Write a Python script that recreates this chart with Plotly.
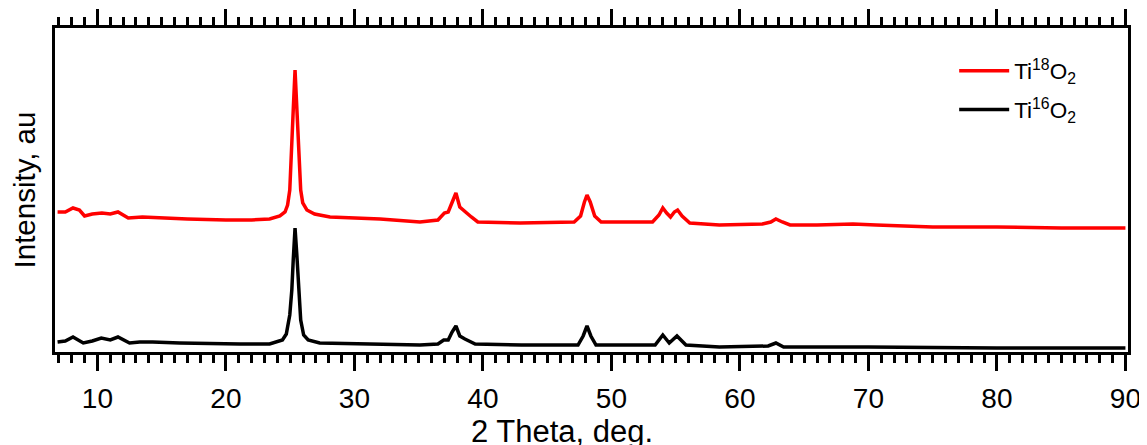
import plotly.graph_objects as go

# 2-theta (deg) and intensity (a.u.)
theta_18 = [6.9, 7.5, 8.1, 8.6, 9.0, 9.6, 10.35, 11.0, 11.6, 12.4, 13.5, 15.0, 17.0, 20.0, 22.0,
            23.4, 24.2, 24.6, 24.8, 24.97, 25.13, 25.24, 25.38, 25.52, 25.65, 25.82, 25.98, 26.3,
            26.9, 28.1, 32.0, 35.1, 36.5, 37.0, 37.3, 37.6, 37.9, 38.2, 38.7, 39.1, 39.6, 42.9,
            47.1, 47.6, 47.9, 48.1, 48.35, 48.7, 49.2, 53.2, 53.7, 54.0, 54.3, 54.6, 54.9, 55.15,
            55.5, 56.1, 58.4, 61.75, 62.4, 62.8, 63.3, 63.9, 66.0, 68.8, 70.6, 75.0, 80.0, 85.0, 90.0]
int_18 = [140, 140, 144, 142, 136, 138, 139, 138, 140, 134, 135, 134, 133, 132, 132,
          133, 136, 140, 147, 162, 202, 242, 282, 242, 202, 162, 149, 142,
          138, 135, 133, 130, 132, 139, 140, 150, 159, 145, 139, 135, 130, 129,
          130, 136, 150, 157, 150, 136, 130, 130, 137, 144, 139, 135, 140, 142,
          136, 129, 127, 128, 130, 133, 130, 127, 127, 128, 127, 125, 125, 124, 124]

theta_16 = [6.9, 7.5, 8.1, 8.9, 9.6, 10.3, 11.0, 11.6, 12.5, 13.3, 14.3, 16.4, 21.1, 23.4,
            24.4, 24.7, 24.97, 25.13, 25.24, 25.38, 25.52, 25.67, 25.82, 26.05, 26.4, 27.3,
            32.0, 35.1, 36.5, 36.95, 37.3, 37.6, 37.9, 38.2, 38.6, 39.4, 43.0, 47.4, 47.8,
            48.1, 48.4, 48.8, 53.4, 54.0, 54.5, 55.1, 55.8, 58.4, 62.2, 62.8, 63.4, 70.0,
            80.0, 90.0]
int_16 = [10, 11, 15, 9, 11, 14, 12, 15, 9, 10, 10, 9, 8, 8,
          12, 18, 37, 62, 92, 124, 97, 62, 32, 17, 12, 9,
          8, 7, 8, 12, 12, 20, 26, 16, 13, 8, 7, 7, 16,
          26, 16, 7, 7, 17, 9, 16, 7, 5, 6, 9, 5, 5,
          4, 4]

names = ["Ti<sup>18</sup>O<sub>2</sub>", "Ti<sup>16</sup>O<sub>2</sub>"]
x_title = "2 Theta, deg."
y_title = "Intensity, au"
x_range = [6.7, 90.2]
y_range = [0, 324]
major_ticks = [10, 20, 30, 40, 50, 60, 70, 80, 90]
mid_ticks = [15, 25, 35, 45, 55, 65, 75, 85]

FONT = "Arial, Liberation Sans, sans-serif"

fig = go.Figure()
fig.add_trace(go.Scatter(x=theta_18, y=int_18, mode="lines", name=names[0],
                         line=dict(color="#ff0000", width=3.5), legend="legend"))
fig.add_trace(go.Scatter(x=theta_16, y=int_16, mode="lines", name=names[1],
                         line=dict(color="#000000", width=3.5), legend="legend2"))

# the page body adds an 8 px offset, so the figure is 8 px smaller on each axis
fig.update_layout(
    width=1139, height=437,
    margin=dict(l=47, r=19, t=20, b=93, autoexpand=False),
    paper_bgcolor="white", plot_bgcolor="white",
    font=dict(family=FONT, color="black", size=28),
    xaxis=dict(
        range=x_range, tickvals=major_ticks, showgrid=False, zeroline=False,
        automargin=False,
        showline=True, linecolor="black", linewidth=3, mirror="ticks",
        ticks="outside", ticklen=16, tickwidth=3, tickcolor="black",
        minor=dict(dtick=1, tick0=0, ticks="outside", ticklen=8, tickwidth=3,
                   tickcolor="black", showgrid=False),
        tickfont=dict(size=28, family=FONT), ticklabelstandoff=3,
    ),
    xaxis2=dict(
        range=x_range, overlaying="x", side="bottom", anchor="y", automargin=False,
        tickvals=mid_ticks, showticklabels=False, showgrid=False, zeroline=False,
        showline=False, ticks="outside", ticklen=11, tickwidth=3, tickcolor="black",
    ),
    yaxis=dict(
        range=y_range, showgrid=False, zeroline=False, showticklabels=False,
        automargin=False,
        ticks="", showline=True, linecolor="black", linewidth=3, mirror=True,
        title=dict(text=y_title, font=dict(size=29.5, family=FONT), standoff=13),
    ),
    legend=dict(x=0.838, y=0.867, xanchor="left", yanchor="middle", itemwidth=50,
                bgcolor="rgba(0,0,0,0)", font=dict(size=22.5, family=FONT)),
    legend2=dict(x=0.838, y=0.747, xanchor="left", yanchor="middle", itemwidth=50,
                 bgcolor="rgba(0,0,0,0)", font=dict(size=22.5, family=FONT)),
    showlegend=True,
    annotations=[dict(text=x_title, xref="paper", yref="paper", x=0.4725, y=-0.244,
                      xanchor="center", yanchor="middle", showarrow=False,
                      font=dict(size=31, family=FONT, color="black"))],
)

fig.write_html("out.html")
